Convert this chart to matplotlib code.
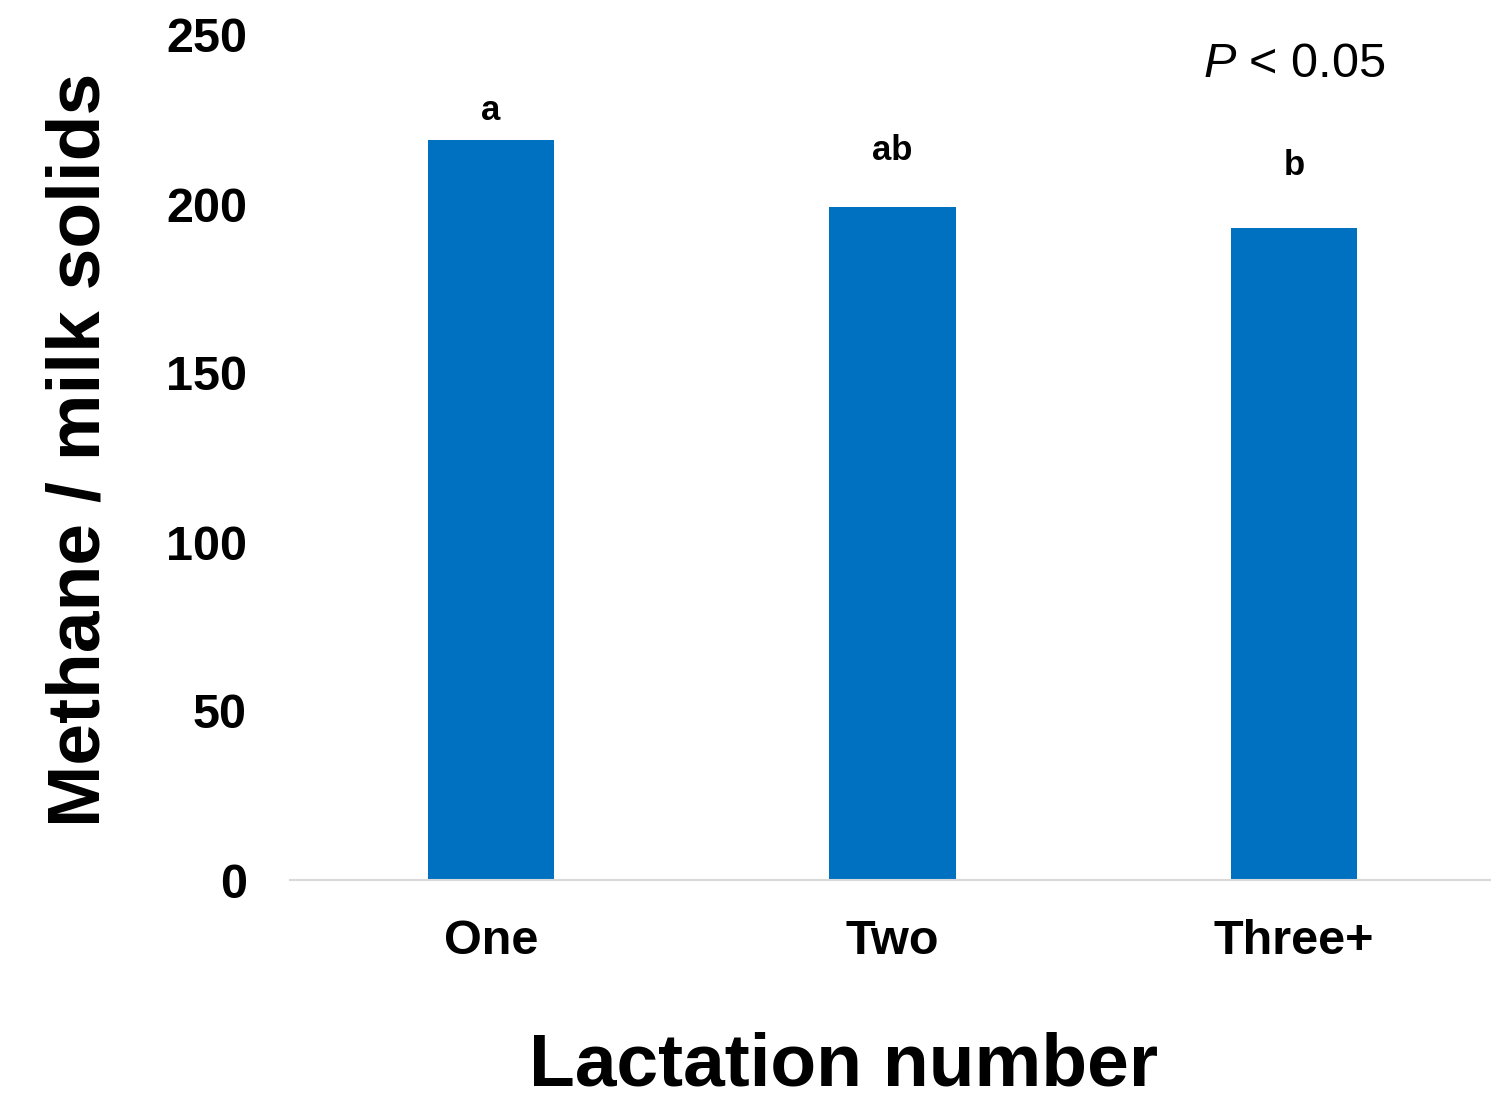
import matplotlib.pyplot as plt

plt.rcParams['font.family'] = 'Liberation Sans'
plt.rcParams['mathtext.fontset'] = 'custom'
plt.rcParams['mathtext.rm'] = 'Liberation Sans'
plt.rcParams['mathtext.it'] = 'Liberation Sans:italic'

# data
lactation = ["One", "Two", "Three+"]
methane_per_ms = [219, 199, 193]
letters = ["a", "ab", "b"]
letter_y = [225, 213, 208.5]
y_ticks = [0, 50, 100, 150, 200, 250]

fig = plt.figure(figsize=(14.91, 11), dpi=100)
ax = fig.add_axes([290 / 1491, 0.2, 1205 / 1491, 845 / 1100])

x = range(len(lactation))
ax.bar(x, methane_per_ms, width=0.315, color="#0070C0", zorder=2)

# significance letters
for xi, lab, yl in zip(x, letters, letter_y):
    ax.text(xi, yl, lab, ha="center", va="baseline", fontsize=25, fontweight="bold")

ax.text(2, 237.6, r"$\mathit{P}$ < 0.05", ha="center", va="baseline", fontsize=35)

ax.set_xlim(-0.5, 2.5)
ax.set_ylim(0, 250)
ax.set_yticks(y_ticks)
ax.set_xticks(list(x))
ax.set_xticklabels(lactation)
for s in ["top", "right", "left"]:
    ax.spines[s].set_visible(False)
ax.spines["bottom"].set_color("#d9d9d9")
ax.spines["bottom"].set_linewidth(1.5)
ax.tick_params(axis="y", length=0, pad=31, labelsize=35)
ax.tick_params(axis="x", length=0, pad=28, labelsize=35)
for t in ax.get_xticklabels() + ax.get_yticklabels():
    t.set_fontweight("bold")

# axis titles
fig.text(844 / 1491, 14 / 1100, "Lactation number", ha="center", va="baseline",
         fontsize=54, fontweight="bold")
fig.text(100 / 1491, 1 - 450 / 1100, "Methane / milk solids", rotation=90,
         rotation_mode="anchor", ha="center", va="baseline",
         fontsize=54, fontweight="bold")

fig.savefig("out.png", dpi=100)
